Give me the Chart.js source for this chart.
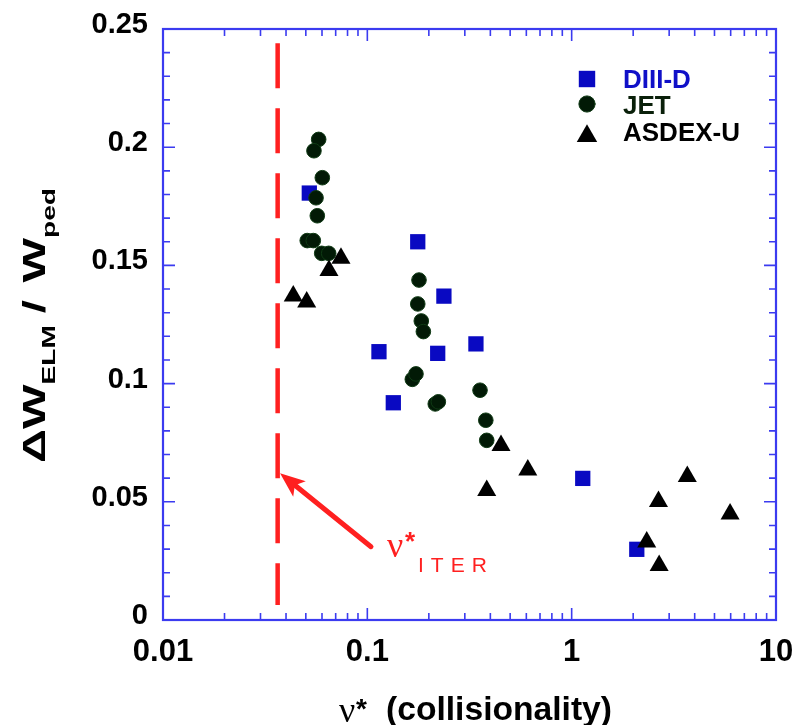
<!DOCTYPE html>
<html>
<head>
<meta charset="utf-8">
<script src="https://cdn.jsdelivr.net/npm/chart.js@4.4.1/dist/chart.umd.min.js"></script>
<style>
  html, body { margin: 0; padding: 0; background: #fff; }
</style>
</head>
<body>
<canvas id="c" width="796" height="725"></canvas>
<script>
// values: nu* (x) and dW_ELM/W_ped (y)
const diiidNu = [0.052, 0.1765, 0.237, 0.114, 0.134, 0.221, 0.340, 1.133, 2.083];
const diiidDW = [0.1806, 0.160, 0.137, 0.1135, 0.0919, 0.1128, 0.1168, 0.0599, 0.0299];

const jetNu = [0.0578, 0.0548, 0.0602, 0.0561, 0.0569, 0.0508, 0.0544, 0.0598, 0.0647,
               0.179, 0.1765, 0.1837, 0.188, 0.166, 0.173, 0.215, 0.2226, 0.356, 0.380, 0.384];
const jetDW = [0.2033, 0.1985, 0.1871, 0.1786, 0.171, 0.1605, 0.1605, 0.1551, 0.1551,
               0.1438, 0.1337, 0.1265, 0.122, 0.1018, 0.1041, 0.0914, 0.0923, 0.0972, 0.0845, 0.076];

const asdexNu = [0.0434, 0.0505, 0.0649, 0.0743, 0.451, 0.384, 0.610, 3.68, 2.66, 5.96, 2.33, 2.68];
const asdexDW = [0.1371, 0.1345, 0.1478, 0.153, 0.0738, 0.0548, 0.0635, 0.0607, 0.0501, 0.0448, 0.033, 0.0231];

// ITER collisionality marker and the arrow to it
const nuIter = 0.0364;
const iterLineDW = [0.244, 0.0063];
const arrowTip = { x: 0.0374, y: 0.0621 };
const arrowTail = { x: 0.1042, y: 0.031 };

const xTicks = [0.01, 0.1, 1, 10];
const yTicks = [0, 0.05, 0.1, 0.15, 0.2, 0.25];

const toPts = (xs, ys) => xs.map((v, i) => ({ x: v, y: ys[i] }));

const AXIS_BLUE = '#3b3bf0';
const SQ_BLUE = '#0909c2';
const JET_FILL = '#021a06';
const RED = '#ff2020';
const SANS = "'Liberation Sans', Arial, Helvetica, sans-serif";
const SERIF = "'Liberation Serif', 'Times New Roman', serif";

// draw a row of [text, font, dy, gapAfter] pieces stretched to a given length
function drawRow(ctx, segs, x0, base, targetLen) {
  let total = 0;
  for (const s of segs) { ctx.font = s[1]; total += ctx.measureText(s[0]).width + (s[3] || 0); }
  const k = targetLen ? targetLen / total : 1;
  ctx.save();
  ctx.translate(x0, base);
  ctx.scale(k, 1);
  let px = 0;
  for (const s of segs) {
    ctx.font = s[1];
    ctx.fillText(s[0], px, s[2]);
    px += ctx.measureText(s[0]).width + (s[3] || 0);
  }
  ctx.restore();
}

const noPad = s => { s.paddingLeft = 0; s.paddingRight = 0; s.paddingTop = 0; s.paddingBottom = 0; };

const frame = {
  id: 'frame',
  beforeDatasetsDraw(chart) {
    const { ctx, chartArea: a, scales: { x, y } } = chart;
    ctx.save();
    ctx.strokeStyle = AXIS_BLUE;
    ctx.lineWidth = 1.6;
    ctx.beginPath();
    for (let d = 0.01; d < 5; d *= 10) {
      for (let k = 1; k <= 10; k++) {
        const v = k * d;
        const px = x.getPixelForValue(v);
        const L = (k === 1 || k === 10) ? 12 : 7;
        ctx.moveTo(px, a.bottom); ctx.lineTo(px, a.bottom - L);
        ctx.moveTo(px, a.top); ctx.lineTo(px, a.top + L);
      }
    }
    for (let i = 0; i <= 25; i++) {
      const py = y.getPixelForValue(i / 100);
      const L = i % 5 === 0 ? 12 : 7;
      ctx.moveTo(a.left, py); ctx.lineTo(a.left + L, py);
      ctx.moveTo(a.right, py); ctx.lineTo(a.right - L, py);
    }
    ctx.stroke();
    ctx.lineWidth = 2.2;
    ctx.strokeRect(a.left, a.top, a.right - a.left, a.bottom - a.top);
    ctx.restore();
  }
};

const extras = {
  id: 'extras',
  afterDraw(chart) {
    const { ctx, chartArea: a, scales: { x, y } } = chart;
    const ds = chart.data.datasets;
    ctx.save();
    ctx.textBaseline = 'alphabetic';
    ctx.textAlign = 'left';

    // arrow to nu*_ITER
    const tx = x.getPixelForValue(arrowTip.x), ty = y.getPixelForValue(arrowTip.y);
    const sx = x.getPixelForValue(arrowTail.x), sy = y.getPixelForValue(arrowTail.y);
    const len = Math.hypot(sx - tx, sy - ty);
    const ux = (sx - tx) / len, uy = (sy - ty) / len;
    ctx.strokeStyle = RED; ctx.fillStyle = RED;
    ctx.lineWidth = 5; ctx.lineCap = 'round';
    ctx.beginPath();
    ctx.moveTo(sx, sy); ctx.lineTo(tx + ux * 14, ty + uy * 14);
    ctx.stroke();
    const bx = tx + ux * 25, by = ty + uy * 25;
    ctx.beginPath();
    ctx.moveTo(tx, ty);
    ctx.lineTo(bx - uy * 10, by + ux * 10);
    ctx.lineTo(tx + ux * 19, ty + uy * 19);
    ctx.lineTo(bx + uy * 10, by - ux * 10);
    ctx.closePath();
    ctx.fill();

    // label nu*_ITER
    ctx.font = `36px ${SERIF}`;
    ctx.fillText('\u03bd', sx + 16, sy + 10);
    ctx.font = `bold 26px ${SANS}`;
    ctx.fillText('*', sx + 34, sy + 3);
    ctx.font = `21px ${SANS}`;
    let lx = sx + 47;
    for (const ch of 'ITER') {
      ctx.fillText(ch, lx, sy + 25);
      lx += ctx.measureText(ch).width + 7;
    }

    // legend
    const items = [
      { ds: ds[0], text: 'DIII-D', color: '#1010c8', cy: 79, base: 88 },
      { ds: ds[1], text: 'JET', color: '#0a200a', cy: 104, base: 114 },
      { ds: ds[2], text: 'ASDEX-U', color: '#000', cy: 136, base: 141 }
    ];
    for (const it of items) {
      ctx.fillStyle = it.ds.backgroundColor;
      ctx.strokeStyle = it.ds.borderColor;
      ctx.lineWidth = it.ds.borderWidth;
      Chart.helpers.drawPoint(ctx, {
        pointStyle: it.ds.pointStyle,
        radius: it.ds.pointRadius + 0.8,
        rotation: 0,
        borderWidth: it.ds.borderWidth
      }, a.right - 189, it.cy);
      ctx.fillStyle = it.color;
      ctx.font = `bold 26px ${SANS}`;
      ctx.fillText(it.text, a.right - 153, it.base);
    }

    // x title
    ctx.fillStyle = '#000';
    ctx.font = `36px ${SERIF}`;
    ctx.fillText('\u03bd', 339, 722);
    ctx.font = `bold 28px ${SANS}`;
    ctx.fillText('*', 356, 718);
    drawRow(ctx, [['(collisionality)', `bold 33px ${SANS}`, 0, 0]], 386, 720, 226);

    // y title, rotated, reads bottom to top
    ctx.save();
    ctx.translate(45, 463);
    ctx.rotate(-Math.PI / 2);
    drawRow(ctx, [
      ['\u0394W', `bold 32px ${SANS}`, 0, 0],
      ['ELM', `bold 19px ${SANS}`, 10, 8],
      ['/', `bold 32px ${SANS}`, 0, 12],
      ['W', `bold 32px ${SANS}`, 0, 0],
      ['ped', `bold 19px ${SANS}`, 10, 0]
    ], 0, 0, 275);
    ctx.restore();

    ctx.restore();
  }
};

new Chart(document.getElementById('c'), {
  type: 'scatter',
  data: {
    datasets: [
      {
        label: 'DIII-D', data: toPts(diiidNu, diiidDW),
        pointStyle: 'rect', pointRadius: 10.8, pointHoverRadius: 10.8,
        backgroundColor: SQ_BLUE, borderColor: SQ_BLUE, borderWidth: 0, order: 3
      },
      {
        label: 'JET', data: toPts(jetNu, jetDW),
        pointStyle: 'circle', pointRadius: 7.3, pointHoverRadius: 7.3,
        backgroundColor: JET_FILL, borderColor: '#0f3a14', borderWidth: 1, order: 2
      },
      {
        label: 'ASDEX-U', data: toPts(asdexNu, asdexDW),
        pointStyle: 'triangle', pointRadius: 11, pointHoverRadius: 11,
        backgroundColor: '#000', borderColor: '#000', borderWidth: 0, order: 1
      },
      {
        type: 'line', label: 'nu* ITER',
        data: iterLineDW.map(v => ({ x: nuIter, y: v })),
        showLine: true, borderColor: RED, borderWidth: 4.5, borderDash: [45, 20],
        borderCapStyle: 'butt', pointRadius: 0, fill: false, order: 4
      }
    ]
  },
  options: {
    responsive: false,
    animation: false,
    layout: { padding: { top: 29, right: 20, left: 0, bottom: 0 } },
    plugins: { legend: { display: false }, tooltip: { enabled: false } },
    scales: {
      x: {
        type: 'logarithmic', min: 0.01, max: 10,
        grid: { display: false, drawTicks: false },
        border: { display: false },
        afterBuildTicks: s => { s.ticks = xTicks.map(v => ({ value: v })); },
        afterFit: s => { s.height = 105; noPad(s); },
        ticks: {
          color: '#000', padding: 14, maxRotation: 0, autoSkip: false,
          font: { family: SANS, size: 31, weight: 'bold' },
          callback: v => String(v)
        }
      },
      y: {
        type: 'linear', min: 0, max: 0.25,
        grid: { display: false, drawTicks: false },
        border: { display: false },
        afterBuildTicks: s => { s.ticks = yTicks.map(v => ({ value: v })); },
        afterFit: s => { s.width = 163; noPad(s); },
        ticks: {
          color: '#000', padding: 15, labelOffset: -4,
          font: { family: SANS, size: 29, weight: 'bold' },
          callback: v => String(v)
        }
      }
    }
  },
  plugins: [frame, extras]
});
</script>
</body>
</html>
